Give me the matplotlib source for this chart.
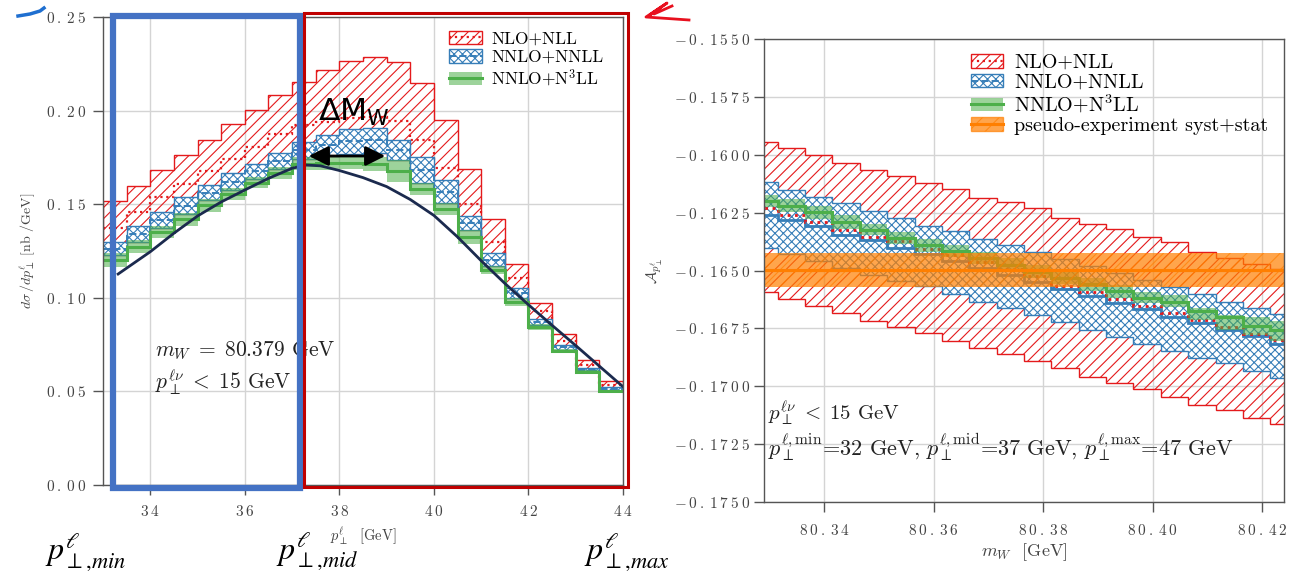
import numpy as np
import matplotlib
matplotlib.use('Agg')
import matplotlib.pyplot as plt
from matplotlib.patches import Patch, Rectangle, FancyArrowPatch
from matplotlib.lines import Line2D
from matplotlib.ticker import FuncFormatter, MultipleLocator

# ---- left panel: d sigma / d pT (bins of 0.5 GeV) ----
pt_edges = [33.0, 33.5, 34.0, 34.5, 35.0, 35.5, 36.0, 36.5, 37.0, 37.5, 38.0, 38.5,
            39.0, 39.5, 40.0, 40.5, 41.0, 41.5, 42.0, 42.5, 43.0, 43.5, 44.0]
nlo_hi = [0.1516, 0.1598, 0.1681, 0.1762, 0.1845, 0.1927, 0.2003, 0.2082, 0.2153, 0.2218, 0.2267,
          0.2288, 0.2261, 0.2150, 0.1952, 0.1690, 0.1423, 0.1180, 0.0973, 0.0807, 0.0670, 0.0557]
nlo_mid = [0.1375, 0.1459, 0.1536, 0.1610, 0.1678, 0.1744, 0.1806, 0.1875, 0.1925, 0.1938, 0.1961,
           0.1967, 0.1943, 0.1845, 0.1692, 0.1500, 0.1297, 0.1108, 0.0928, 0.0768, 0.0643, 0.0536]
nnlo_hi = [0.1299, 0.1383, 0.1459, 0.1536, 0.1601, 0.1664, 0.1717, 0.1774, 0.1833, 0.1872, 0.1902,
           0.1908, 0.1845, 0.1752, 0.1629, 0.1435, 0.1237, 0.1050, 0.0887, 0.0750, 0.0625, 0.0521]
nnlo_mid = [0.1262, 0.1340, 0.1415, 0.1490, 0.1560, 0.1620, 0.1676, 0.1731, 0.1788, 0.1815, 0.1835,
            0.1842, 0.1790, 0.1682, 0.1566, 0.1398, 0.1204, 0.1025, 0.0871, 0.0736, 0.0616, 0.0512]
nnlo_lo = [0.1228, 0.1299, 0.1375, 0.1447, 0.1521, 0.1578, 0.1637, 0.1690, 0.1744, 0.1760, 0.1769,
           0.1776, 0.1737, 0.1612, 0.1504, 0.1360, 0.1171, 0.1000, 0.0856, 0.0723, 0.0607, 0.0504]
n3ll_hi = [0.1240, 0.1310, 0.1385, 0.1455, 0.1530, 0.1585, 0.1645, 0.1700, 0.1750, 0.1755, 0.1755,
           0.1750, 0.1737, 0.1612, 0.1504, 0.1360, 0.1171, 0.1000, 0.0860, 0.0728, 0.0612, 0.0510]
n3ll_mid = [0.1202, 0.1273, 0.1351, 0.1419, 0.1494, 0.1553, 0.1614, 0.1666, 0.1717, 0.1720, 0.1722,
            0.1715, 0.1678, 0.1580, 0.1472, 0.1324, 0.1148, 0.0978, 0.0844, 0.0716, 0.0602, 0.0500]
n3ll_lo = [0.1165, 0.1237, 0.1317, 0.1383, 0.1459, 0.1521, 0.1584, 0.1632, 0.1685, 0.1685, 0.1690,
           0.1680, 0.1620, 0.1549, 0.1441, 0.1288, 0.1126, 0.0956, 0.0829, 0.0705, 0.0593, 0.0491]

# hand-drawn template curve
curve_pt = [33.32, 34.0, 34.5, 35.0, 35.5, 36.0, 36.5, 37.0, 37.3, 37.6, 38.0, 38.5,
            39.0, 39.5, 40.0, 40.5, 41.0, 41.5, 42.0, 42.5, 43.0, 43.5, 44.0]
curve_val = [0.1127, 0.1246, 0.1345, 0.1437, 0.1512, 0.1576, 0.1638, 0.1692, 0.1709, 0.1705, 0.1680, 0.1642,
             0.1594, 0.1525, 0.1440, 0.1325, 0.1198, 0.1077, 0.0963, 0.0853, 0.0745, 0.0635, 0.0525]

# ---- right panel: asymmetry vs mW ----
mw = [80.329, 80.334, 80.339, 80.344, 80.349, 80.354, 80.359, 80.364, 80.369, 80.374,
      80.379, 80.384, 80.389, 80.394, 80.399, 80.404, 80.409, 80.414, 80.419, 80.424]
a_nlo_hi = [-0.15945, -0.15973, -0.16002, -0.16035, -0.16065, -0.16091, -0.16122, -0.16148, -0.16185, -0.16205,
            -0.16231, -0.16272, -0.16297, -0.16321, -0.16355, -0.16379, -0.16422, -0.16447, -0.16473, -0.16494]
a_nlo_mid = [-0.16231, -0.16262, -0.16291, -0.16327, -0.16355, -0.16374, -0.16405, -0.16435, -0.16465, -0.16495,
             -0.16525, -0.16565, -0.16595, -0.16625, -0.16653, -0.16684, -0.16713, -0.16745, -0.16775, -0.16802]
a_nlo_lo = [-0.16592, -0.16624, -0.16653, -0.16683, -0.16716, -0.16744, -0.16771, -0.16804, -0.16835, -0.16862,
            -0.16893, -0.16922, -0.16961, -0.16984, -0.17014, -0.17045, -0.17080, -0.17101, -0.17135, -0.17165]
a_nnlo_hi = [-0.16119, -0.16151, -0.16181, -0.16208, -0.16241, -0.16274, -0.16308, -0.16328, -0.16362, -0.16391,
             -0.16420, -0.16450, -0.16480, -0.16510, -0.16540, -0.16572, -0.16601, -0.16635, -0.16661, -0.16690]
a_nnlo_mid = [-0.16262, -0.16284, -0.16308, -0.16348, -0.16370, -0.16403, -0.16430, -0.16460, -0.16490, -0.16520,
              -0.16550, -0.16580, -0.16610, -0.16640, -0.16667, -0.16699, -0.16727, -0.16756, -0.16785, -0.16817]
a_nnlo_lo = [-0.16402, -0.16430, -0.16460, -0.16490, -0.16520, -0.16545, -0.16569, -0.16602, -0.16635, -0.16664,
             -0.16693, -0.16721, -0.16757, -0.16789, -0.16819, -0.16846, -0.16876, -0.16900, -0.16932, -0.16965]
a_n3ll_hi = [-0.16174, -0.16191, -0.16220, -0.16262, -0.16298, -0.16334, -0.16362, -0.16391, -0.16418, -0.16448,
             -0.16478, -0.16505, -0.16533, -0.16562, -0.16591, -0.16605, -0.16663, -0.16691, -0.16699, -0.16720]
a_n3ll_mid = [-0.16200, -0.16220, -0.16248, -0.16290, -0.16323, -0.16359, -0.16391, -0.16416, -0.16445, -0.16475,
              -0.16505, -0.16532, -0.16560, -0.16590, -0.16620, -0.16638, -0.16677, -0.16702, -0.16740, -0.16757]
a_n3ll_lo = [-0.16226, -0.16248, -0.16277, -0.16319, -0.16348, -0.16384, -0.16420, -0.16441, -0.16472, -0.16502,
             -0.16532, -0.16560, -0.16590, -0.16618, -0.16641, -0.16658, -0.16713, -0.16755, -0.16778, -0.16806]
pseudo_mid = -0.16497
pseudo_lo = -0.16570
pseudo_hi = -0.16425

RED = '#e41a1c'
BLUE = '#377eb8'
GREEN = '#4daf4a'
ORANGE = '#ff7f00'
GRAY = '#444444'

plt.rcParams['font.family'] = 'serif'
plt.rcParams['font.serif'] = ['cmr10', 'DejaVu Serif']
plt.rcParams['mathtext.fontset'] = 'cm'
plt.rcParams['axes.formatter.use_mathtext'] = True
plt.rcParams['hatch.linewidth'] = 0.8

W, H = 1301, 577
fig = plt.figure(figsize=(13.01, 5.77), dpi=100)


def fx(x):
    return x / W


def fy(y):
    return 1 - y / H


def spaced(fmt):
    # tick labels in the reference are slightly letter-spaced
    def f(v, pos):
        s = fmt.format(v)
        return '$' + r'\:'.join(list(s)) + '$'
    return FuncFormatter(f)


def style_axes(ax):
    ax.grid(True, color='#d4d4d4', lw=1.0)
    ax.set_axisbelow(True)
    for sp in ax.spines.values():
        sp.set_color('#555555')
        sp.set_linewidth(1.0)
    ax.tick_params(direction='out', length=7, width=1, color='#555555',
                   labelcolor=GRAY, labelsize=11)


# ---------------- left panel ----------------
ax1 = fig.add_axes([fx(103), fy(485), fx(520), 468 / H])
style_axes(ax1)
edges = np.array(pt_edges)
ax1.stairs(nlo_hi, edges, baseline=nnlo_lo, fill=True, facecolor='none',
           edgecolor=RED, hatch='///', lw=1.0)
ax1.stairs(nlo_mid, edges, baseline=None, color=RED, ls=':', lw=1.6)
ax1.stairs(nnlo_hi, edges, baseline=nnlo_lo, fill=True, facecolor='white',
           edgecolor=BLUE, hatch='xxxx', lw=1.0)
ax1.stairs(nnlo_mid, edges, baseline=None, color=BLUE, ls='--', lw=1.4)
ax1.stairs(n3ll_hi, edges, baseline=n3ll_lo, fill=True, facecolor=GREEN,
           edgecolor='none', alpha=0.55)
ax1.stairs(n3ll_mid, edges, baseline=None, color=GREEN, lw=2.2)
ax1.plot(curve_pt, curve_val, color='#1b2a4e', lw=2.0)

ax1.set_xlim(33, 44)
ax1.set_ylim(0, 0.25)
ax1.xaxis.set_major_locator(MultipleLocator(2))
ax1.yaxis.set_major_locator(MultipleLocator(0.05))
ax1.xaxis.set_major_formatter(spaced('{:.0f}'))
ax1.yaxis.set_major_formatter(spaced('{:.2f}'))
ax1.tick_params(axis='x', pad=7)
ax1.tick_params(axis='y', pad=5)
ax1.set_xlabel(r'$p_\perp^\ell$  [GeV]', fontsize=10.5, color=GRAY)
ax1.xaxis.set_label_coords(0.5, -0.088)
ax1.set_ylabel(r'$d\sigma\,/dp_\perp^\ell$ [nb /GeV]', fontsize=10, color=GRAY)
ax1.yaxis.set_label_coords(-0.127, 0.5)

ax1.text(fx(155), fy(355), r'$m_W\;=\;80.379$ GeV', transform=fig.transFigure,
         fontsize=15.5, color='#222222')
ax1.text(fx(155), fy(390), r'$p_\perp^{\ell\nu}\;<\;15$ GeV', transform=fig.transFigure,
         fontsize=15.5, color='#222222')

h_nlo = (Patch(facecolor='white', edgecolor=RED, hatch='///'),
         Line2D([], [], color=RED, ls=':', lw=1.6))
h_nnlo = (Patch(facecolor='white', edgecolor=BLUE, hatch='xxxx'),
          Line2D([], [], color=BLUE, ls='--', lw=1.4))
h_n3ll = (Patch(facecolor=GREEN, edgecolor='none', alpha=0.55),
          Line2D([], [], color=GREEN, lw=2.2))
h_pseudo = (Patch(facecolor=ORANGE, edgecolor=ORANGE, hatch='//', alpha=0.7),
            Line2D([], [], color=ORANGE, lw=2.2))
labels3 = ['NLO+NLL', 'NNLO+NNLL', r'NNLO+N$^3$LL']
ax1.legend([h_nlo, h_nnlo, h_n3ll], labels3, loc='upper right',
           bbox_to_anchor=(0.975, 0.985), frameon=False,
           fontsize=12.5, handlelength=1.9, handleheight=0.8, labelspacing=0.15,
           borderaxespad=0.0, handletextpad=0.5)

# ---------------- right panel ----------------
ax2 = fig.add_axes([fx(764), fy(502), fx(520), 463 / H])
style_axes(ax2)
mw_arr = np.array(mw)
redges = np.append(mw_arr - 0.0025, mw_arr[-1] + 0.0025)
ax2.stairs(a_nlo_hi, redges, baseline=a_nlo_lo, fill=True, facecolor='none',
           edgecolor=RED, hatch='///', lw=1.0)
ax2.stairs(a_nnlo_hi, redges, baseline=a_nnlo_lo, fill=True, facecolor='white',
           edgecolor=BLUE, hatch='xxxx', lw=1.0)
ax2.stairs(a_nnlo_mid, redges, baseline=None, color=BLUE, lw=2.0)
ax2.stairs(a_nlo_mid, redges, baseline=None, color=RED, ls=':', lw=2.0)
ax2.stairs(a_n3ll_hi, redges, baseline=a_n3ll_lo, fill=True, facecolor=GREEN,
           edgecolor='none', alpha=0.55)
ax2.stairs(a_n3ll_mid, redges, baseline=None, color=GREEN, lw=2.2)
ax2.axhspan(pseudo_lo, pseudo_hi, facecolor=ORANGE, edgecolor=ORANGE, hatch='//',
            alpha=0.7, lw=0)
ax2.axhline(pseudo_mid, color=ORANGE, lw=2.2)

ax2.set_xlim(80.329, 80.424)
ax2.set_ylim(-0.175, -0.155)
ax2.xaxis.set_major_locator(MultipleLocator(0.02))
ax2.yaxis.set_major_locator(MultipleLocator(0.0025))
ax2.xaxis.set_major_formatter(spaced('{:.2f}'))
ax2.yaxis.set_major_formatter(spaced('{:.4f}'))
ax2.tick_params(axis='x', pad=8)
ax2.tick_params(axis='y', pad=3)
ax2.set_xlabel(r'$m_W$  [GeV]', fontsize=13, color=GRAY)
ax2.xaxis.set_label_coords(0.5, -0.084)
ax2.set_ylabel(r'$\mathcal{A}_{p_\perp^\ell}$', fontsize=11, color=GRAY)
ax2.yaxis.set_label_coords(-0.19, 0.5)
ax2.legend([h_nlo, h_nnlo, h_n3ll, h_pseudo],
           labels3 + ['pseudo-experiment syst+stat'], loc='upper right',
           bbox_to_anchor=(0.985, 0.985), frameon=False, fontsize=14.5,
           handlelength=1.6, handleheight=0.65, labelspacing=0.08,
           borderaxespad=0.0, handletextpad=0.55)
ax2.text(fx(768), fy(420), r'$p_\perp^{\ell\nu}\;<\;15$ GeV', transform=fig.transFigure,
         fontsize=15, color='#222222')
ax2.text(fx(768), fy(456),
         r'$p_\perp^{\ell,\mathrm{min}}$=32 GeV, $p_\perp^{\ell,\mathrm{mid}}$=37 GeV, '
         r'$p_\perp^{\ell,\mathrm{max}}$=47 GeV', transform=fig.transFigure,
         fontsize=16, color='#222222')

# ---------------- annotations ----------------
fig.add_artist(Rectangle((fx(113), fy(488)), fx(187), 472 / H, transform=fig.transFigure,
                         fill=False, edgecolor='#4472c4', lw=4.5))
fig.add_artist(Rectangle((fx(304), fy(487)), fx(324), 474 / H, transform=fig.transFigure,
                         fill=False, edgecolor='#c00000', lw=2.2))
fig.text(fx(318), fy(121), r'$\Delta\mathrm{M}_\mathrm{W}$', fontsize=22.5,
         math_fontfamily='dejavusans', color='black')
fig.add_artist(FancyArrowPatch(
    (fx(306), fy(156)), (fx(388), fy(156)), transform=fig.transFigure,
    arrowstyle='<|-|>,head_length=0.6,head_width=0.3', mutation_scale=20,
    color='black', lw=2))
for lbl, x0 in [('min', 45), ('mid', 276), ('max', 584)]:
    fig.text(fx(x0), fy(560), r'$p^{\ell}_{\perp{,}%s}$' % lbl, fontsize=23,
             math_fontfamily='stix', color='black', va='baseline')
fig.add_artist(Line2D([fx(18), fx(30), fx(40), fx(44)], [fy(16), fy(14), fy(11), fy(8)],
                      transform=fig.transFigure, color='#1f6fd0', lw=2.5))
fig.add_artist(Line2D([fx(689), fx(646), fx(667), fx(650), fx(660), fx(654), fx(672)],
                      [fy(20), fy(17), fy(3), fy(15), fy(8), fy(14), fy(6)],
                      transform=fig.transFigure, color='#e8101e', lw=2.0))

fig.savefig('out.png', dpi=100)
